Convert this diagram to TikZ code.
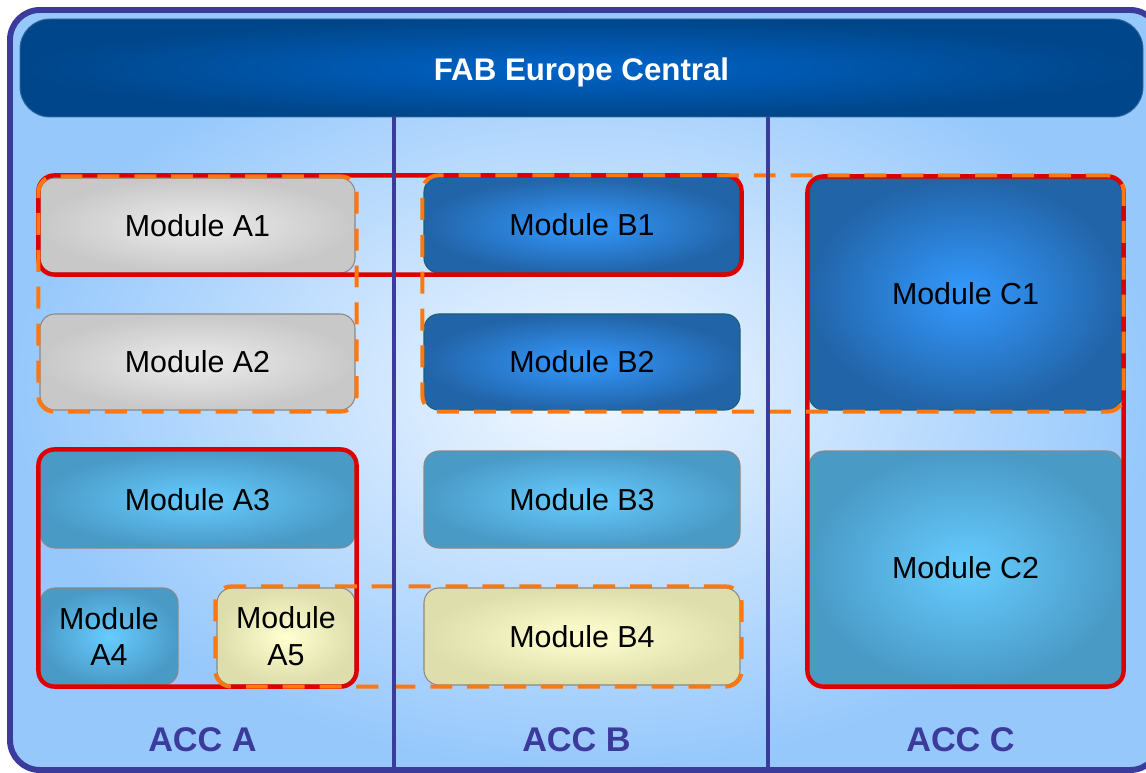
\documentclass[tikz,border=0pt]{standalone}
\usepackage{fontspec}
\setmainfont{Liberation Sans}
\usetikzlibrary{fit}
\definecolor{framec}{RGB}{59,59,155}
\definecolor{bgin}{RGB}{242,248,255}
\definecolor{bgout}{RGB}{150,200,252}
\definecolor{hdrin}{RGB}{0,100,200}
\definecolor{hdrout}{RGB}{0,70,138}
\definecolor{grayin}{RGB}{236,236,236}
\definecolor{grayout}{RGB}{200,200,200}
\definecolor{bluein}{RGB}{52,154,255}
\definecolor{blueout}{RGB}{34,100,168}
\definecolor{tealin}{RGB}{102,204,255}
\definecolor{tealout}{RGB}{74,154,198}
\definecolor{yelin}{RGB}{255,255,208}
\definecolor{yelout}{RGB}{222,222,172}
\definecolor{redc}{RGB}{220,0,0}
\definecolor{orangec}{RGB}{255,119,17}
\definecolor{bordc}{RGB}{136,136,136}
\definecolor{bordblue}{RGB}{30,96,112}
\tikzset{
  module/.style={shading=radial, draw=bordc, line width=0.6pt, rounded corners=8.5pt,
    inner sep=0pt, align=center, text=black,
    font=\fontsize{17.3}{21}\selectfont},
  graymod/.style={module, inner color=grayin, outer color=grayout},
  bluemod/.style={module, inner color=bluein, outer color=blueout, draw=bordblue},
  tealmod/.style={module, inner color=tealin, outer color=tealout},
  yelmod/.style={module, inner color=yelin, outer color=yelout},
  redbox/.style={draw=redc, line width=2.5pt, rounded corners=9pt, inner sep=0.6pt},
  orangebox/.style={draw=orangec, line width=2.3pt, rounded corners=9pt, inner sep=0.6pt,
    dash pattern=on 12.5pt off 8.5pt},
  divider/.style={draw=framec, line width=2.1pt},
  acclabel/.style={text=framec, font=\bfseries\fontsize{19.5}{23}\selectfont},
  header/.style={shading=radial, inner color=hdrin, outer color=hdrout,
    draw=hdrout!80!white, line width=0.5pt, rounded corners=17pt,
    minimum width=1123*0.02cm, minimum height=98*0.02cm, text=white,
    font=\bfseries\fontsize{17.8}{21}\selectfont}
}
\begin{document}
\begin{tikzpicture}[x=0.02cm, y=-0.02cm]
\useasboundingbox (0,0) rectangle (1146,773);
% outer frame
\path[draw=framec, line width=3.4pt, rounded corners=17pt, shading=radial,
  inner color=bgin, outer color=bgout] (10,10) rectangle (1160,770);
% header
\node[header] (hdr) at (581.5,68) {\raisebox{-2.6pt}[\height][\depth]{FAB Europe Central}};
% modules
\node[graymod, minimum width=315*0.02cm, minimum height=95*0.02cm] (A1) at (197.5,225.5) {Module A1};
\node[graymod, minimum width=315*0.02cm, minimum height=96*0.02cm] (A2) at (197.5,362) {Module A2};
\node[tealmod, minimum width=315*0.02cm, minimum height=97*0.02cm] (A3) at (197.5,499.5) {Module A3};
\node[tealmod, minimum width=138*0.02cm, minimum height=97*0.02cm] (A4) at (109,636.5) {Module\\A4};
\node[yelmod, minimum width=138*0.02cm, minimum height=97*0.02cm] (A5) at (286,636.5) {Module\\A5};
\node[bluemod, minimum width=316*0.02cm, minimum height=96*0.02cm] (B1) at (582,225) {Module B1};
\node[bluemod, minimum width=316*0.02cm, minimum height=96*0.02cm] (B2) at (582,362) {Module B2};
\node[tealmod, minimum width=316*0.02cm, minimum height=97*0.02cm] (B3) at (582,499.5) {Module B3};
\node[yelmod, minimum width=316*0.02cm, minimum height=97*0.02cm] (B4) at (582,636.5) {Module B4};
\node[bluemod, minimum width=313*0.02cm, minimum height=232*0.02cm] (C1) at (965.5,294) {Module C1};
\node[tealmod, minimum width=313*0.02cm, minimum height=234*0.02cm] (C2) at (965.5,568) {Module C2};
% red groups
\node[redbox, fit=(A1)(B1)] (R1) {};
\node[redbox, fit=(A3)(A4)(A5)] (R2) {};
\node[redbox, fit=(C1)(C2)] (R3) {};
% orange groups
\node[orangebox, fit=(A1)(A2)] (O1) {};
\node[orangebox, fit=(B1)(B2)(C1)] (O2) {};
\node[orangebox, fit=(A5)(B4)] (O3) {};
% dividers
\coordinate (d1t) at (394,117);
\coordinate (d1b) at (394,775);
\coordinate (d2t) at (768,117);
\coordinate (d2b) at (768,775);
\draw[divider] (d1t) -- (d1b);
\draw[divider] (d2t) -- (d2b);
% labels
\node[acclabel] (accA) at (202.5,740) {ACC A};
\node[acclabel] (accB) at (576.5,740) {ACC B};
\node[acclabel] (accC) at (960.5,740) {ACC C};
\end{tikzpicture}
\end{document}
